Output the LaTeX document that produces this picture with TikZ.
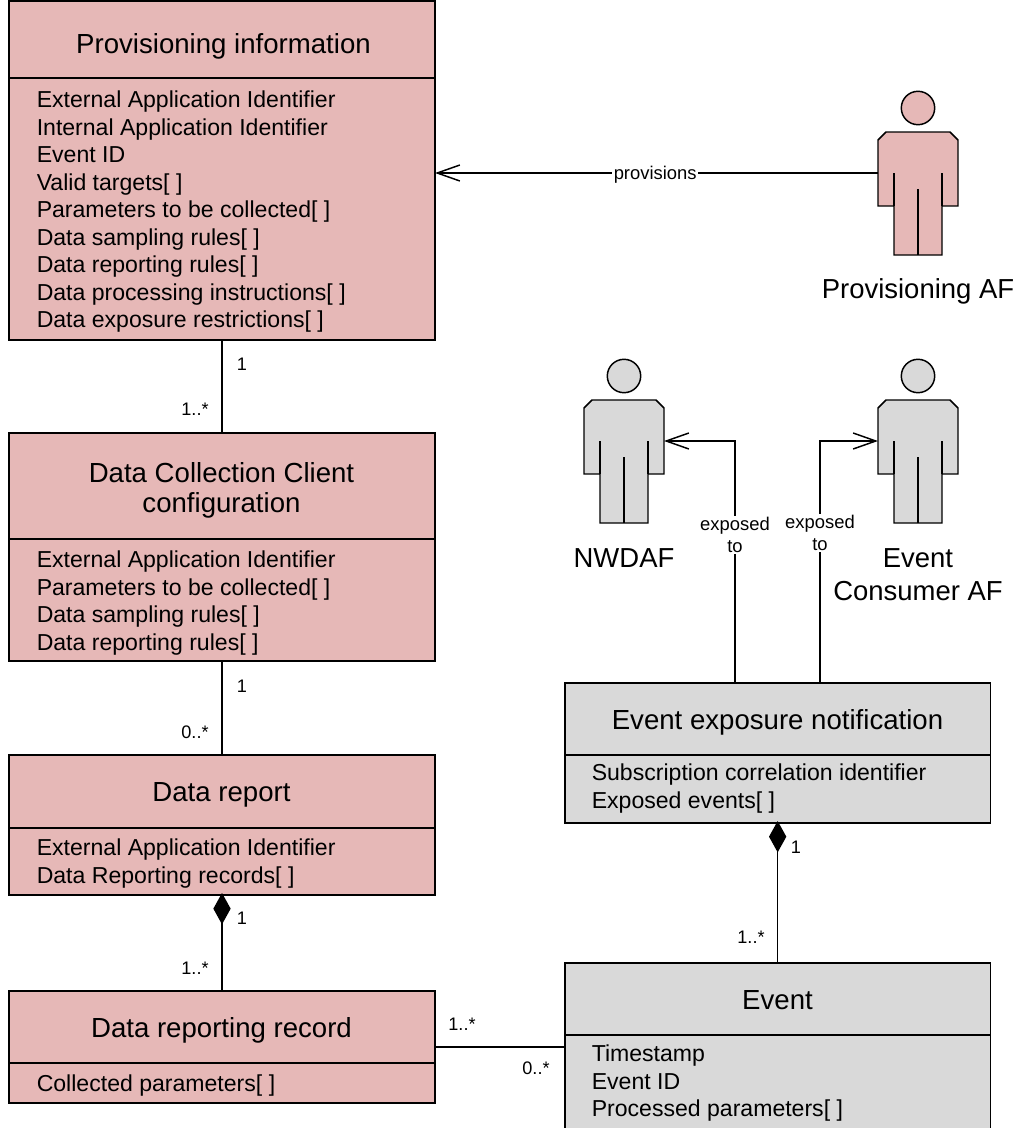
\documentclass[tikz,border=0pt]{standalone}
\usepackage{fontspec}
\setmainfont{Liberation Sans}
\usetikzlibrary{arrows.meta,calc}
\definecolor{pinkfill}{HTML}{E6B8B7}
\definecolor{grayfill}{HTML}{D9D9D9}
\tikzset{
  umlbox/.style={draw=black,line width=1.1pt,inner sep=0pt,outer sep=0pt,anchor=north west},
  titletext/.style={font=\fontsize{20.7}{22.5}\selectfont,inner sep=0pt,align=center,anchor=center},
  attrtext/.style={font=\fontsize{17.3}{20.6}\selectfont,inner sep=0pt,align=left,anchor=north west},
  multtext/.style={font=\fontsize{13.6}{16}\selectfont,inner sep=0pt,anchor=center},
  actortext/.style={font=\fontsize{20.6}{24.5}\selectfont,inner sep=0pt,align=center,anchor=center},
  linktext/.style={font=\fontsize{13.8}{16.5}\selectfont,inner sep=1pt,align=center,fill=white,anchor=center},
  link/.style={draw=black,line width=1.1pt},
  openhead/.style={-{Straight Barb[length=17pt,width=12pt,line width=1.1pt]}},
  solidhead/.style={{Diamond[length=23.5pt,width=13pt,fill=black]}-,shorten <=-1.5pt},
}
% \umlactor{name}{centre x}{body top y}{fill}
\newcommand{\umlactor}[4]{%
  \begin{scope}[shift={(#2,#3)}]
    \draw[fill=#4,line width=1.1pt,line join=miter]
      (-40,8) -- (-32,0) -- (32,0) -- (40,8) -- (40,74) -- (24,74) -- (24,123) -- (-24,123) -- (-24,74) -- (-40,74) -- cycle;
    \draw[fill=#4,line width=1.1pt] (0,-24) circle (16.7);
    \draw[line width=1.1pt] (-24,41) -- (-24,74) (24,41) -- (24,74) (0,57) -- (0,123);
    \coordinate (#1-l) at (-40,41);
    \coordinate (#1-r) at (40,41);
  \end{scope}}
\newcommand{\umlrow}[2]{\draw[line width=1.1pt] (#1.west |- 0,#2) -- (#1.east |- 0,#2);}
\begin{document}
\begin{tikzpicture}[x=0.75pt,y=-0.75pt]
\clip (0,0) rectangle (1013,1128);
% boxes
\node[umlbox,fill=pinkfill,minimum width=319.5pt,minimum height=254.25pt] (prov) at (9,1) {};
\node[umlbox,fill=pinkfill,minimum width=319.5pt,minimum height=171pt] (dcc) at (9,433) {};
\node[umlbox,fill=pinkfill,minimum width=319.5pt,minimum height=105pt] (report) at (9,755) {};
\node[umlbox,fill=pinkfill,minimum width=319.5pt,minimum height=84pt] (record) at (9,991) {};
\node[umlbox,fill=grayfill,minimum width=319pt,minimum height=105pt] (notif) at (565,683) {};
\node[umlbox,fill=grayfill,minimum width=319pt,minimum height=135pt] (event) at (565,963) {};
\umlrow{prov}{78}
\umlrow{dcc}{539}
\umlrow{report}{828}
\umlrow{record}{1063}
\umlrow{notif}{755}
\umlrow{event}{1035}
% titles
\node[titletext] (tprov) at (223.5,46) {Provisioning information};
\node[titletext] (tdcc) at (221.5,490) {Data Collection Client\\configuration};
\node[titletext] (treport) at (221.5,795) {Data report};
\node[titletext] (trecord) at (221.5,1030) {Data reporting record};
\node[titletext] (tnotif) at (777.5,722) {Event exposure notification};
\node[titletext] (tevent) at (777.5,1000) {Event};
% attributes
\node[attrtext] (aprov) at (36.5,91) {External Application Identifier\\Internal Application Identifier\\Event ID\\Valid targets[ ]\\Parameters to be collected[ ]\\Data sampling rules[ ]\\Data reporting rules[ ]\\Data processing instructions[ ]\\Data exposure restrictions[ ]};
\node[attrtext] (adcc) at (36.5,551) {External Application Identifier\\Parameters to be collected[ ]\\Data sampling rules[ ]\\Data reporting rules[ ]};
\node[attrtext] (areport) at (36.5,839) {External Application Identifier\\Data Reporting records[ ]};
\node[attrtext] (arecord) at (36.5,1075) {Collected parameters[ ]};
\node[attrtext] (anotif) at (591.5,764) {Subscription correlation identifier\\Exposed events[ ]};
\node[attrtext] (aevent) at (591.5,1045) {Timestamp\\Event ID\\Processed parameters[ ]};
% actors
\umlactor{pa}{918}{132}{pinkfill}
\umlactor{nw}{624}{400}{grayfill}
\umlactor{ec}{918}{400}{grayfill}
\node[actortext] (lpa) at (918,291) {Provisioning AF};
\node[actortext] (lnw) at (624,558) {NWDAF};
\node[actortext] (lec) at (918,575) {Event\\Consumer AF};
% connectors
\draw[link] (prov.south -| dcc.north) -- (dcc.north);
\draw[link] (dcc.south) -- (report.north);
\draw[link,solidhead] (report.south) -- (record.north);
\draw[link,solidhead] (notif.south) -- (event.north);
\draw[link] (record.east) -- (record.east -| event.west);
\draw[link,openhead] (pa-l) -- (pa-l -| prov.east) node[linktext,pos=0.503,yshift=-1.5pt] (tprovisions) {provisions};
\coordinate (nwleg) at (735,683);
\coordinate (ecleg) at (820,683);
\draw[link,openhead] (nwleg) -- (nwleg |- nw-r) -- (nw-r);
\draw[link,openhead] (ecleg) -- (ecleg |- ec-l) -- (ec-l);
\node[linktext] (lnwlink) at (735,535) {exposed\\to};
\node[linktext] (leclink) at (820,533) {exposed\\to};
% multiplicities
\node[multtext] (m1) at (242,364) {1};
\node[multtext] (m2) at (195,409) {1..*};
\node[multtext] (m3) at (242,686) {1};
\node[multtext] (m4) at (195,732) {0..*};
\node[multtext] (m5) at (242,918) {1};
\node[multtext] (m6) at (195,968) {1..*};
\node[multtext] (m7) at (462,1024) {1..*};
\node[multtext] (m8) at (536,1068) {0..*};
\node[multtext] (m9) at (796,847) {1};
\node[multtext] (m10) at (751,937) {1..*};
\end{tikzpicture}
\end{document}
